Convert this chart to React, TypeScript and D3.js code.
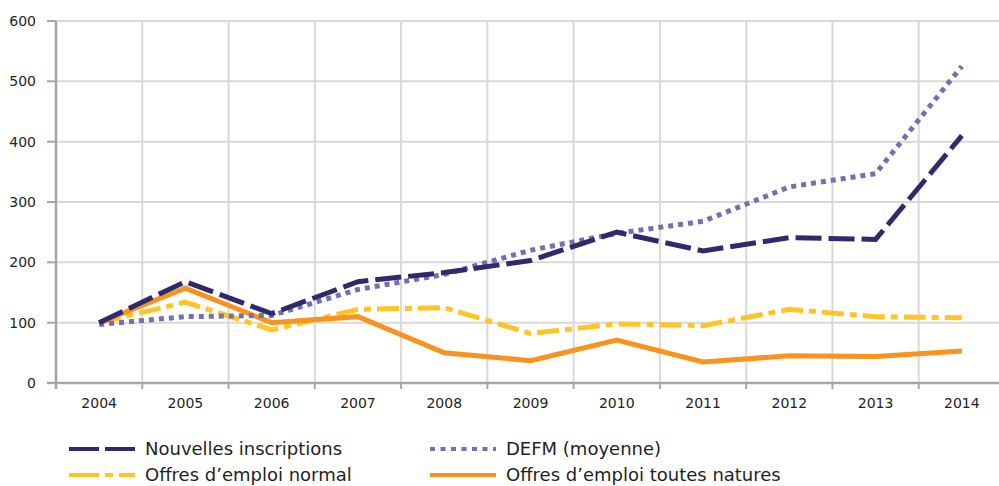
import React from "react";
import * as d3 from "d3";

const years = ["2004","2005","2006","2007","2008","2009","2010","2011","2012","2013","2014"];
const nouvellesInscriptions = [100, 168, 115, 168, 183, 203, 250, 219, 241, 238, 410];
const defmMoyenne = [97, 110, 112, 155, 180, 220, 248, 268, 325, 347, 525];
const offresNormal = [100, 134, 88, 122, 125, 82, 98, 95, 122, 110, 108];
const offresToutes = [100, 157, 100, 110, 50, 37, 71, 35, 45, 44, 53];
const yTicks = [0, 100, 200, 300, 400, 500, 600];

const seriesNames = ["Nouvelles inscriptions", "DEFM (moyenne)", "Offres d\u2019emploi normal", "Offres d\u2019emploi toutes natures"];

const W = 999, H = 486;
const FONT = "'DejaVu Sans', Verdana, sans-serif";

export default function App() {
  const x = d3.scaleBand<string>().domain(years).range([56, 1005]).padding(0);
  const y = d3.scaleLinear().domain([0, 600]).range([383, 21]);
  const cx = (i: number) => (x(years[i]) as number) + x.bandwidth() / 2;
  const line = d3.line<number>().x((_, i) => cx(i)).y((d) => y(d));

  const series = [
    { name: seriesNames[0], data: nouvellesInscriptions, color: "#2f2a6b", dash: "26,7" },
    { name: seriesNames[1], data: defmMoyenne, color: "#736fb0", dash: "5,5" },
    { name: seriesNames[2], data: offresNormal, color: "#ffc425", dash: "22,6,7,6" },
    { name: seriesNames[3], data: offresToutes, color: "#f7931e", dash: "" },
  ];
  const drawOrder = [2, 3, 1, 0];

  const legendPos = [
    { x: 69, y: 449 },
    { x: 430, y: 449 },
    { x: 69, y: 475 },
    { x: 430, y: 475 },
  ];

  const gridBoundaries = years.map((yr) => x(yr) as number).concat([1005]);

  return (
    <svg width={W} height={H} style={{ position: "absolute", left: 0, top: 0, background: "#fff" }} fontFamily={FONT}>
      <rect x={0} y={0} width={W} height={H} fill="#fff" />
      {yTicks.filter((t) => t > 0).map((t) => (
        <line key={"h" + t} x1={56} x2={W} y1={y(t)} y2={y(t)} stroke="#d9d9d9" strokeWidth={2} />
      ))}
      {gridBoundaries.slice(1).map((gx, i) => (
        <line key={"v" + i} x1={gx} x2={gx} y1={21} y2={383} stroke="#d9d9d9" strokeWidth={2} />
      ))}
      {gridBoundaries.map((gx, i) => (
        <line key={"xt" + i} x1={gx} x2={gx} y1={383} y2={389} stroke="#a6a6a6" strokeWidth={2} />
      ))}
      {yTicks.map((t) => (
        <line key={"yt" + t} x1={47} x2={56} y1={y(t)} y2={y(t)} stroke="#a6a6a6" strokeWidth={2} />
      ))}
      <line x1={56} x2={56} y1={21} y2={389} stroke="#a6a6a6" strokeWidth={2.5} />
      <line x1={47} x2={W} y1={383} y2={383} stroke="#a6a6a6" strokeWidth={2.5} />
      {yTicks.map((t) => (
        <text key={"yl" + t} x={36} y={y(t) + 5} textAnchor="end" fontSize={14} fill="#231f20">{t}</text>
      ))}
      {years.map((yr, i) => (
        <text key={"xl" + yr} x={cx(i)} y={408} textAnchor="middle" fontSize={14} fill="#231f20">{yr}</text>
      ))}
      {drawOrder.map((k) => {
        const s = series[k];
        return (
          <path key={"s" + k} d={line(s.data) || ""} fill="none" stroke={s.color} strokeWidth={5}
            strokeDasharray={s.dash || undefined} strokeLinecap="butt" strokeLinejoin="miter" />
        );
      })}
      {series.map((s, k) => (
        <g key={"lg" + k}>
          <line x1={legendPos[k].x} x2={legendPos[k].x + 66} y1={legendPos[k].y} y2={legendPos[k].y}
            stroke={s.color} strokeWidth={4} strokeDasharray={k === 0 ? "30,6" : k === 1 ? "5,5.5" : k === 2 ? "30,6,8,6" : undefined} />
          <text x={legendPos[k].x + 76} y={legendPos[k].y + 6} fontSize={18} fill="#231f20">{s.name}</text>
        </g>
      ))}
    </svg>
  );
}
